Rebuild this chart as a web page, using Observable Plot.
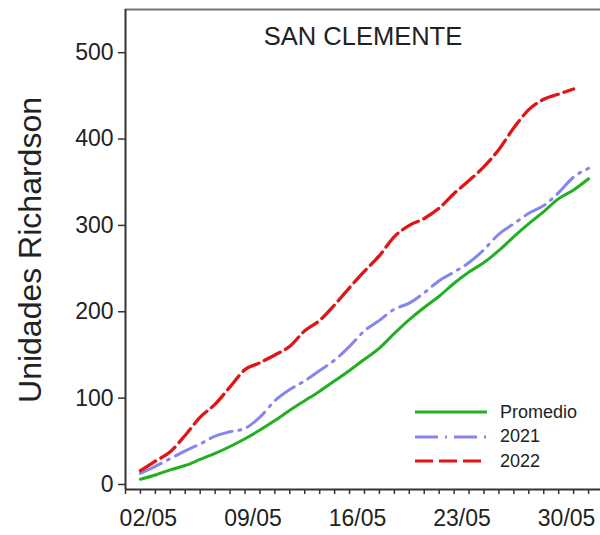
<!DOCTYPE html>
<html>
<head>
<meta charset="utf-8">
<script src="https://cdn.jsdelivr.net/npm/d3@7"></script>
<script src="https://cdn.jsdelivr.net/npm/@observablehq/plot@0.6"></script>
<style>
  html, body { margin: 0; padding: 0; background: #fff; }
  #wrap { position: relative; width: 600px; height: 535px; font-family: "Liberation Sans", Arial, sans-serif; }
  #legend { position: absolute; left: 415px; top: 400px; font-size: 18px; color: #222; }
  #legend .row { display: flex; align-items: center; height: 24.5px; }
  #legend svg { width: 72px; height: 10px; margin-right: 13px; }
  #ytitle { position: absolute; left: 30px; top: 250px; transform: translate(-50%, -50%) rotate(-90deg);
            white-space: nowrap; font-size: 32px; color: #222; line-height: 1; }
</style>
</head>
<body>
<div id="wrap"></div>
<script>
// Days of May
const days = [1,2,3,4,5,6,7,8,9,10,11,12,13,14,15,16,17,18,19,20,21,22,23,24,25,26,27,28,29,30,31];
const promedio = [6,11,17,22,29,36,44,53,63,74,86,97,108,120,132,145,158,175,191,205,218,233,246,257,271,287,302,316,331,341,354];
const y2021 = [13,21,30,39,47,56,61,65,78,97,110,120,132,144,160,178,190,203,210,222,236,246,257,272,290,302,314,323,338,356,366];
const y2022 = [16,27,38,57,78,93,113,133,141,150,160,178,190,208,228,247,265,287,300,308,320,337,352,368,388,413,434,446,452,458];
const yTicks = [0,100,200,300,400,500];
const xLabelDays = [2,9,16,23,30];
const xLabels = ["02/05","09/05","16/05","23/05","30/05"];
const minorTicks = [0,1,2,3,4,5,6,7,8,9,10,11,12,13,14,15,16,17,18,19,20,21,22,23,24,25,26,27,28,29,30,31];
const seriesNames = ["Promedio","2021","2022"];
const colors = ["#22b022","#8585ee","#e01515"];
const dashes = [null,"23,7,2,7","18,6"];
const title = "SAN CLEMENTE";
const yTitle = "Unidades Richardson";

const data = [];
[promedio, y2021, y2022].forEach((vals, k) => {
  vals.forEach((v, i) => data.push({series: seriesNames[k], day: days[i], value: v}));
});

const font = "'Liberation Sans', Arial, sans-serif";
const chart = Plot.plot({
  width: 600,
  height: 535,
  marginLeft: 125,
  marginRight: 0,
  marginTop: 9,
  marginBottom: 46,
  style: {fontFamily: font, color: "#222", background: "#fff"},
  x: {domain: [0, 31.8], axis: null},
  y: {domain: [-5.8, 550], axis: null},
  marks: [
    Plot.ruleY([550], {stroke: "#777", strokeWidth: 2}),
    Plot.ruleX([0], {stroke: "#333", strokeWidth: 2}),
    Plot.ruleY([-5.8], {stroke: "#333", strokeWidth: 2}),
    Plot.axisY({ticks: yTicks, tickSize: 7, tickPadding: 5, fontSize: 23, label: null, stroke: "#333", strokeWidth: 1.5}),
    Plot.axisX({ticks: minorTicks, tickSize: 5, tickFormat: () => "", label: null, stroke: "#333", strokeWidth: 1.5}),
    Plot.axisX({ticks: xLabelDays, tickSize: 0, tickPadding: 20, dx: -7, tickFormat: d => xLabels[xLabelDays.indexOf(d)], fontSize: 23, label: null}),
    ...seriesNames.map((s, k) => Plot.line(data.filter(d => d.series === s), {
      x: "day", y: "value", stroke: colors[k], strokeWidth: k === 2 ? 3.3 : 3,
      strokeDasharray: dashes[k] || undefined, curve: "monotone-x"
    })),
    Plot.text([title], {frameAnchor: "top", dy: 27, lineAnchor: "middle", fontSize: 25.5, fill: "#222"})
  ]
});

const wrap = document.getElementById("wrap");
wrap.appendChild(chart);

const yt = document.createElement("div");
yt.id = "ytitle";
yt.textContent = yTitle;
wrap.appendChild(yt);

const legend = document.createElement("div");
legend.id = "legend";
seriesNames.forEach((s, k) => {
  const row = document.createElement("div");
  row.className = "row";
  const dash = dashes[k] ? `stroke-dasharray="${dashes[k]}"` : "";
  row.innerHTML = `<svg viewBox="0 0 72 10"><line x1="0" y1="5" x2="72" y2="5" stroke="${colors[k]}" stroke-width="3" ${dash}/></svg><span>${s}</span>`;
  legend.appendChild(row);
});
wrap.appendChild(legend);
</script>
</body>
</html>
